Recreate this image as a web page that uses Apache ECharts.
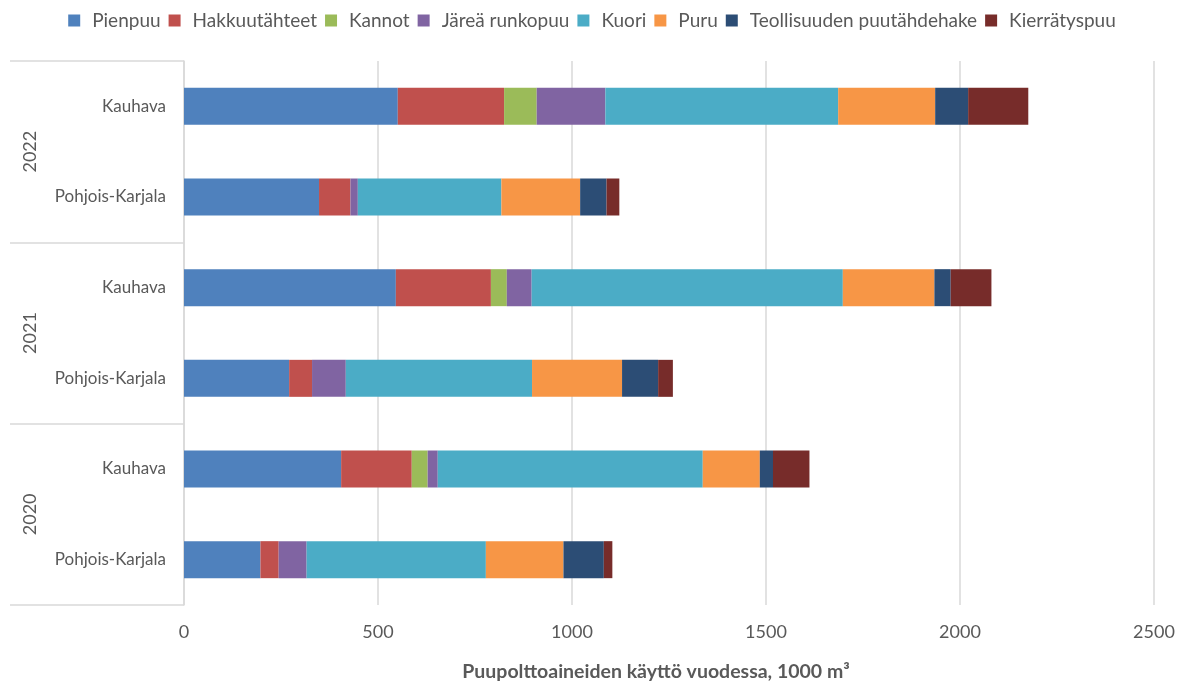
<!DOCTYPE html>
<html>
<head>
<meta charset="utf-8">
<script src="https://cdn.jsdelivr.net/npm/echarts@6/dist/echarts.min.js"></script>
<style>
  html, body { margin: 0; padding: 0; background: #fff; }
  #chart { width: 1184px; height: 684px; }
</style>
</head>
<body>
<div id="chart"></div>
<script>
// Wood fuel use per year (1000 m³), two regions, three years
const years = ['2022', '2021', '2020'];
const regions = ['Kauhava', 'Pohjois-Karjala'];

// Row order: 2022 Kauhava, 2022 Pohjois-Karjala, 2021 Kauhava, 2021 Pohjois-Karjala, 2020 Kauhava, 2020 Pohjois-Karjala
const pienpuu        = [551, 348, 546, 271, 405, 197];
const hakkuutahteet  = [274,  81, 245,  59, 182,  47];
const kannot         = [ 84,   0,  41,   0,  41,   0];
const jarearunkopuu  = [177,  19,  64,  87,  26,  72];
const kuori          = [600, 370, 802, 480, 683, 462];
const puru           = [250, 203, 236, 232, 147, 200];
const teollisuus     = [ 85,  68,  42,  93,  34, 104];
const kierratyspuu   = [155,  33, 105,  38,  94,  22];

const seriesNames = ['Pienpuu', 'Hakkuutähteet', 'Kannot', 'Järeä runkopuu', 'Kuori', 'Puru', 'Teollisuuden puutähdehake', 'Kierrätyspuu'];
const seriesValues = [pienpuu, hakkuutahteet, kannot, jarearunkopuu, kuori, puru, teollisuus, kierratyspuu];
const seriesColors = ['#4F81BD', '#C0504D', '#9BBB59', '#8064A2', '#4BACC6', '#F79646', '#2C4D75', '#772C2A'];

const xTicks = { min: 0, max: 2500, interval: 500 };

const rowLabels = [];
years.forEach(() => regions.forEach(r => rowLabels.push(r)));

const FONT = 'Lato';
const GREY = '#595959';

const chart = echarts.init(document.getElementById('chart'), null, { renderer: 'canvas' });

chart.setOption({
  animation: false,
  textStyle: { fontFamily: FONT },
  color: seriesColors,
  legend: {
    top: 6,
    left: 'center',
    itemWidth: 12,
    itemHeight: 12,
    itemGap: 8,
    icon: 'rect',
    textStyle: { fontFamily: FONT, fontSize: 19, color: GREY, padding: [0, 0, 0, 7] },
    data: seriesNames
  },
  grid: { left: 184, right: 30, top: 61, bottom: 79, containLabel: false, outerBoundsMode: 'none' },
  xAxis: {
    type: 'value',
    min: xTicks.min,
    max: xTicks.max,
    interval: xTicks.interval,
    axisLine: { show: false },
    axisTick: { show: false },
    axisLabel: { color: GREY, fontSize: 18, margin: 18, fontFamily: FONT, formatter: v => String(v) },
    splitLine: { show: true, lineStyle: { color: '#D9D9D9', width: 1.5 } },
    name: 'Puupolttoaineiden käyttö vuodessa, 1000 m³',
    nameLocation: 'middle',
    nameGap: 57,
    nameTextStyle: { color: GREY, fontSize: 19.5, fontWeight: 'bold', fontFamily: FONT, padding: [0, 26, 0, 0] }
  },
  yAxis: [
    {
      type: 'category',
      inverse: true,
      data: rowLabels,
      axisLine: { show: true, lineStyle: { color: '#D9D9D9', width: 1.5 } },
      axisTick: { show: false },
      axisLabel: { color: GREY, fontSize: 17, margin: 18, fontFamily: FONT }
    },
    {
      type: 'category',
      inverse: true,
      position: 'left',
      data: years,
      axisLine: { show: false },
      axisTick: { show: true, length: 174, lineStyle: { color: '#D9D9D9', width: 1.5 } },
      axisLabel: { color: GREY, fontSize: 18, rotate: 90, margin: 145, fontFamily: FONT }
    }
  ],
  series: seriesNames.map((name, i) => ({
    name: name,
    type: 'bar',
    stack: 'total',
    yAxisIndex: 0,
    barWidth: 37,
    itemStyle: { color: seriesColors[i] },
    data: seriesValues[i]
  }))
});
</script>
</body>
</html>
